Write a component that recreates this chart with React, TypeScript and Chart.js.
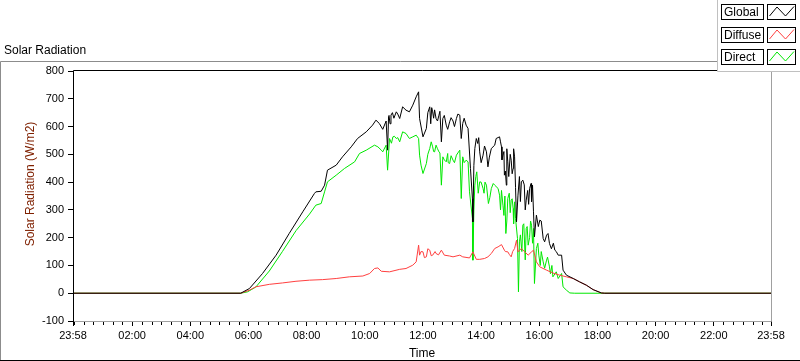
import React, { useEffect, useRef } from 'react';
import { Chart, registerables } from 'chart.js';
Chart.register(...registerables);

// Time axis in minutes from midnight (-2 = 23:58 of previous day)
const timeMin = -2;
const timeMax = 1438;
const majorTickTimes = [-2, 120, 240, 360, 480, 600, 720, 840, 960, 1080, 1200, 1320, 1438];
const minorTickStep = 20;
const yMin = -100;
const yMax = 800;
const yStep = 100;

const seriesNames = ['Global', 'Diffuse', 'Direct'];
const seriesColors = ['#000000', '#ff4040', '#00e800'];

const globalTimes = [
  -2, 344, 362, 389, 417, 444, 472, 496, 499, 510,
  517, 523, 541, 554, 572, 585, 603, 616, 623, 630,
  637, 644, 647, 649, 650, 652, 654, 657, 660, 665,
  668, 672, 678, 685, 692, 699, 706, 711, 713, 720,
  727, 730, 734, 736, 738, 740, 742, 744, 747, 750,
  753, 755, 758, 761, 764, 768, 771, 775, 778, 782,
  785, 789, 792, 796, 799, 802, 805, 809, 813, 818,
  822, 823, 825, 827, 830, 833, 835, 837, 840, 844,
  847, 851, 854, 857, 861, 868, 871, 878, 880, 882,
  883, 885, 887, 888, 890, 892, 893, 895, 897, 900,
  902, 904, 906, 907, 909, 911, 913, 916, 919, 921,
  923, 926, 929, 931, 933, 936, 938, 940, 943, 944,
  946, 948, 950, 954, 958, 961, 964, 968, 971, 975,
  978, 981, 985, 989, 992, 995, 999, 1006, 1009, 1016,
  1030, 1043, 1057, 1071, 1088, 1095, 1438,
];
const globalValues = [
  0, 0, 17, 71, 137, 215, 293, 359, 365, 367,
  389, 443, 461, 491, 527, 557, 581, 605, 623, 611,
  590, 620, 515, 635, 640, 610, 641, 650, 630, 653,
  645, 629, 671, 659, 653, 677, 707, 725, 629, 563,
  593, 650, 671, 610, 668, 653, 630, 660, 629, 620,
  641, 655, 545, 629, 640, 605, 590, 617, 632, 620,
  600, 629, 645, 641, 557, 611, 630, 605, 593, 449,
  341, 257, 460, 521, 557, 539, 560, 509, 470, 497,
  530, 509, 455, 490, 521, 533, 557, 563, 545, 527,
  480, 497, 510, 425, 440, 389, 520, 473, 420, 500,
  479, 430, 449, 520, 491, 380, 257, 353, 420, 330,
  401, 407, 390, 300, 335, 370, 320, 377, 395, 330,
  389, 293, 203, 281, 240, 263, 260, 197, 185, 209,
  215, 179, 160, 180, 155, 150, 137, 137, 83, 65,
  53, 41, 29, 13, 1, 0, 0,
];

const diffuseTimes = [
  -2, 344, 362, 375, 403, 430, 458, 486, 513, 541,
  568, 596, 610, 620, 627, 634, 651, 672, 685, 699,
  706, 711, 713, 716, 720, 723, 727, 730, 734, 737,
  740, 745, 747, 752, 758, 764, 775, 782, 796, 802,
  816, 823, 830, 837, 847, 854, 861, 868, 875, 882,
  888, 890, 895, 898, 902, 905, 909, 913, 916, 923,
  930, 937, 944, 948, 954, 961, 975, 988, 1002, 1016,
  1030, 1043, 1057, 1071, 1088, 1095, 1438,
];
const diffuseValues = [
  0, 0, 11, 23, 32, 37, 43, 47, 49, 53,
  59, 62, 71, 89, 91, 79, 77, 86, 89, 101,
  113, 173, 137, 150, 149, 128, 131, 160, 155, 135,
  137, 150, 143, 138, 155, 137, 134, 131, 137, 131,
  127, 149, 122, 122, 125, 131, 143, 161, 167, 175,
  155, 150, 149, 140, 131, 150, 161, 191, 149, 161,
  149, 137, 149, 155, 113, 95, 83, 73, 65, 59,
  53, 41, 29, 13, 1, 0, 0,
];

const directTimes = [
  -2, 344, 358, 375, 403, 430, 458, 486, 499, 510,
  517, 523, 541, 558, 579, 589, 603, 620, 627, 634,
  637, 644, 647, 651, 655, 658, 661, 665, 668, 672,
  678, 685, 692, 699, 706, 711, 713, 716, 720, 727,
  730, 734, 737, 740, 742, 744, 747, 750, 753, 755,
  758, 761, 764, 768, 771, 772, 775, 778, 782, 785,
  789, 792, 796, 799, 802, 805, 809, 813, 816, 822,
  823, 825, 827, 829, 831, 834, 837, 840, 844, 846,
  848, 851, 855, 858, 861, 865, 868, 875, 878, 880,
  882, 885, 887, 889, 891, 893, 895, 898, 900, 902,
  904, 906, 907, 909, 911, 915, 917, 919, 921, 924,
  926, 928, 931, 933, 935, 937, 940, 942, 944, 946,
  948, 950, 954, 957, 959, 962, 964, 968, 971, 975,
  977, 981, 983, 986, 988, 995, 999, 1006, 1009, 1016,
  1023, 1033, 1438,
];
const directValues = [
  0, 0, 5, 22, 80, 150, 225, 285, 317, 323,
  365, 401, 425, 449, 473, 503, 515, 533, 527, 515,
  509, 533, 443, 557, 540, 563, 565, 557, 560, 545,
  581, 575, 557, 563, 569, 557, 497, 461, 431, 467,
  500, 521, 545, 527, 510, 509, 533, 520, 509, 505,
  389, 491, 480, 473, 503, 470, 467, 495, 479, 470,
  497, 505, 515, 341, 491, 470, 479, 473, 365, 269,
  119, 300, 389, 420, 437, 360, 401, 400, 377, 360,
  400, 389, 323, 345, 377, 395, 389, 377, 353, 300,
  370, 317, 280, 350, 215, 260, 341, 360, 290, 335,
  340, 305, 250, 329, 269, 197, 5, 185, 210, 150,
  245, 250, 120, 233, 240, 173, 200, 260, 245, 180,
  233, 35, 161, 180, 137, 100, 150, 113, 90, 119,
  130, 95, 70, 100, 59, 77, 53, 71, 23, 11,
  1, 0, 0,
];

const seriesTimes = [globalTimes, diffuseTimes, directTimes];
const seriesValues = [globalValues, diffuseValues, directValues];

const FONT = '"Liberation Sans", Arial, sans-serif';

function fmtTime(v: number): string {
  const m = ((Math.round(v) % 1440) + 1440) % 1440;
  const h = Math.floor(m / 60);
  const mm = m % 60;
  return String(h).padStart(2, '0') + ':' + String(mm).padStart(2, '0');
}

const decorPlugin = {
  id: 'decor',
  beforeDraw(chart: any) {
    const ctx = chart.ctx as CanvasRenderingContext2D;
    const W = chart.width, H = chart.height;
    ctx.save();
    ctx.fillStyle = '#ffffff';
    ctx.fillRect(0, 0, W, H);
    ctx.lineWidth = 1;
    ctx.strokeStyle = '#8c8c8c';
    ctx.beginPath();
    ctx.moveTo(0.5, H);
    ctx.lineTo(0.5, 61.5);
    ctx.lineTo(W, 61.5);
    ctx.stroke();
    ctx.strokeStyle = '#000000';
    ctx.beginPath();
    ctx.moveTo(0, H - 0.5);
    ctx.lineTo(W, H - 0.5);
    ctx.stroke();
    ctx.fillStyle = '#000';
    ctx.font = '12px ' + FONT;
    ctx.textAlign = 'left';
    ctx.textBaseline = 'middle';
    ctx.fillText('Solar Radiation', 4, 51);
    ctx.restore();
  },
  afterDraw(chart: any) {
    const ctx = chart.ctx as CanvasRenderingContext2D;
    const a = chart.chartArea;
    const xs = chart.scales.x;
    const W = chart.width;
    ctx.save();
    ctx.lineWidth = 1;
    // plot frame
    ctx.strokeStyle = '#000';
    ctx.beginPath();
    ctx.moveTo(a.left + 0.5, a.bottom + 1);
    ctx.lineTo(a.left + 0.5, a.top - 0.5);
    ctx.lineTo(a.right + 1, a.top - 0.5);
    ctx.stroke();
    ctx.strokeStyle = '#a0a0a0';
    ctx.beginPath();
    ctx.moveTo(a.left + 1, a.bottom + 0.5);
    ctx.lineTo(a.right + 0.5, a.bottom + 0.5);
    ctx.lineTo(a.right + 0.5, a.top - 1);
    ctx.stroke();
    // minor x ticks
    ctx.strokeStyle = '#000';
    ctx.beginPath();
    for (let t = 0; t <= timeMax; t += minorTickStep) {
      if (t % 120 === 0 && t !== 0) continue;
      const px = Math.round(xs.getPixelForValue(t)) + 0.5;
      ctx.moveTo(px, a.bottom + 1);
      ctx.lineTo(px, a.bottom + 4);
    }
    ctx.stroke();
    // axis titles
    ctx.fillStyle = '#000';
    ctx.font = '12px ' + FONT;
    ctx.textAlign = 'center';
    ctx.textBaseline = 'middle';
    ctx.fillText('Time', (a.left + a.right) / 2, 354);
    ctx.save();
    ctx.translate(31, 184);
    ctx.rotate(-Math.PI / 2);
    ctx.fillStyle = '#7f2000';
    ctx.fillText('Solar Radiation (W/m2)', 0, 0);
    ctx.restore();
    // legend panel
    ctx.fillStyle = '#fff';
    ctx.fillRect(717, 0, W - 717, 72);
    ctx.strokeStyle = '#c0c0c0';
    ctx.beginPath();
    ctx.moveTo(717.5, 0);
    ctx.lineTo(717.5, 71.5);
    ctx.lineTo(W, 71.5);
    ctx.stroke();
    const tops = [4, 27, 49];
    seriesNames.forEach((name, i) => {
      const y0 = tops[i];
      ctx.strokeStyle = '#000';
      ctx.fillStyle = '#fff';
      ctx.fillRect(721, y0, 43, 16);
      ctx.strokeRect(721.5, y0 + 0.5, 42, 15);
      ctx.fillRect(767, y0, 29, 16);
      ctx.strokeRect(767.5, y0 + 0.5, 28, 15);
      ctx.fillStyle = '#000';
      ctx.font = '12px ' + FONT;
      ctx.textAlign = 'left';
      ctx.textBaseline = 'middle';
      ctx.fillText(name, 724, y0 + 8.5);
      ctx.strokeStyle = seriesColors[i];
      ctx.beginPath();
      ctx.moveTo(769.5, y0 + 12);
      ctx.lineTo(777, y0 + 3);
      ctx.lineTo(785.5, y0 + 12);
      ctx.lineTo(794, y0 + 2.5);
      ctx.stroke();
    });
    ctx.restore();
  },
};

export default function App() {
  const ref = useRef<HTMLCanvasElement | null>(null);
  useEffect(() => {
    if (!ref.current) return;
    const datasets = seriesNames.map((name, i) => ({
      label: name,
      data: seriesTimes[i].map((t, j) => ({ x: t, y: seriesValues[i][j] })),
      borderColor: seriesColors[i],
      backgroundColor: seriesColors[i],
      borderWidth: 1,
      pointRadius: 0,
      tension: 0,
      fill: false,
    }));
    const chart = new Chart(ref.current, {
      type: 'line',
      data: { datasets },
      plugins: [decorPlugin],
      options: {
        animation: false,
        responsive: false,
        devicePixelRatio: 1,
        layout: { padding: { left: 0, top: 71, right: 29, bottom: 0 } },
        plugins: {
          legend: { display: false },
          tooltip: { enabled: false },
          title: { display: false },
        },
        scales: {
          x: {
            type: 'linear',
            min: timeMin,
            max: timeMax,
            afterBuildTicks: (s: any) => {
              s.ticks = majorTickTimes.map((v) => ({ value: v }));
            },
            afterFit: (s: any) => {
              s.height = 40;
            },
            border: { display: false },
            grid: { drawOnChartArea: false, drawTicks: true, tickLength: 5, color: '#000', lineWidth: 1 },
            ticks: {
              callback: (v: any) => fmtTime(Number(v)),
              font: { family: FONT, size: 11 },
              color: '#000',
              padding: 3,
              maxRotation: 0,
              autoSkip: false,
            },
          },
          y: {
            type: 'linear',
            min: yMin,
            max: yMax,
            afterFit: (s: any) => {
              s.width = 73;
            },
            border: { display: false },
            grid: { drawOnChartArea: false, drawTicks: true, tickLength: 5, color: '#000', lineWidth: 1 },
            ticks: {
              stepSize: yStep,
              font: { family: FONT, size: 11 },
              color: '#000',
              padding: 4,
            },
          },
        },
      },
    });
    return () => chart.destroy();
  }, []);
  return (
    <div style={{ position: 'fixed', left: 0, top: 0, width: 800, height: 361, background: '#fff' }}>
      <canvas ref={ref} width={800} height={361} style={{ display: 'block', width: 800, height: 361 }} />
    </div>
  );
}
